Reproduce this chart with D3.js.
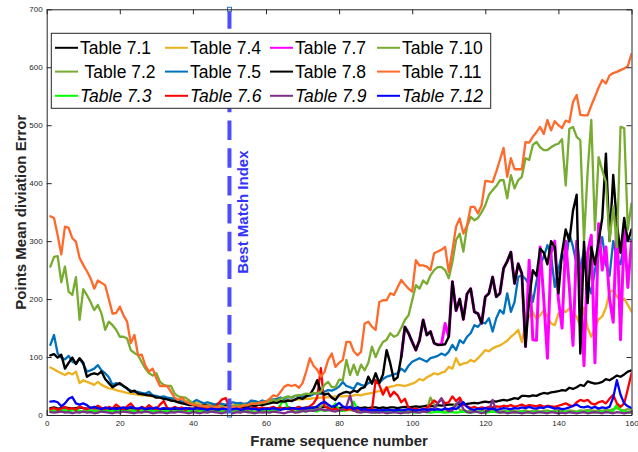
<!DOCTYPE html>
<html>
<head>
<meta charset="utf-8">
<script src="https://cdn.jsdelivr.net/npm/d3@7"></script>
<style>
  html, body { margin: 0; padding: 0; background: #fff; }
  svg { display: block; font-family: "Liberation Sans", Arial, Helvetica, sans-serif; }
</style>
</head>
<body>
<svg id="chart" width="638" height="452"></svg>
<script>
// ---- axis ticks ----
const xTicks = [0, 20, 40, 60, 80, 100, 120, 140, 160];
const yTicks = [0, 100, 200, 300, 400, 500, 600, 700];

// ---- series: mean deviation error per frame (frames 1..160) ----
const t71 = [12,13,11,12,13,12,11,12,13,12, 11,12,12,11,12,11,10,11,12,11,
  10,11,12,11,10,11,10,11,12,11, 10,11,10,11,10,11,12,11,10,11,
  10,11,10,11,10,9,10,11,10,10, 11,10,10,11,10,11,10,11,12,11,
  12,11,12,11,12,13,12,12,13,12, 13,12,13,12,13,14,13,12,13,12,
  13,12,13,12,13,12,13,12,13,13, 12,13,12,13,13,12,13,14,13,14,
  15,14,15,16,15,16,17,16,17,18, 18,17,19,18,19,20,21,20,22,23,
  22,24,23,25,26,25,27,29,28,33, 33,32,34,33,36,38,37,39,40,41,
  43,42,47,45,48,52,50,58,56,54, 55,57,62,60,64,68,66,70,75,77];

const t72 = [8,7,9,8,6,7,9,8,7,6, 8,7,6,8,7,9,7,6,8,7,
  6,7,8,6,7,8,7,6,7,8, 7,6,8,7,6,7,8,7,6,7,
  8,7,6,7,8,6,7,8,7,6, 7,8,6,7,8,7,6,8,7,9,
  8,10,9,11,10,12,9,10,8,9, 10,8,11,9,14,22,16,10,8,9,
  7,8,9,7,8,6,7,8,6,7, 6,7,8,6,7,8,6,7,8,7,
  6,8,7,9,30,18,8,7,6,8, 12,20,9,7,6,8,7,6,7,8,
  6,7,8,6,7,6,8,7,6,7, 8,6,7,8,6,7,8,6,7,8,
  7,6,8,7,6,8,7,9,8,7, 8,7,9,8,10,12,9,8,10,9];

const t73 = [6,8,5,7,9,6,8,10,7,5, 6,8,7,5,6,9,7,6,8,5,
  7,6,5,8,6,7,5,6,8,7, 5,6,7,5,6,8,6,5,7,6,
  5,6,7,5,6,5,7,6,5,6, 4,6,5,7,5,6,4,5,6,5,
  7,6,8,18,29,12,7,6,5,7, 6,8,7,6,9,7,8,12,20,8,
  7,9,12,23,10,6,5,6,5,4, 5,6,5,4,5,6,5,4,5,5,
  4,5,6,5,4,5,6,5,4,5, 5,4,5,6,5,4,5,6,5,4,
  5,6,5,4,5,6,5,4,5,6, 5,4,5,6,5,4,5,6,5,4,
  5,6,5,4,5,6,5,6,5,4, 5,6,5,6,7,18,8,6,5,4];

const t74 = [82,79,75,72,69,73,70,75,55,60, 57,55,52,57,52,49,46,45,43,41,
  40,38,37,36,35,34,34,33,32,31, 30,30,29,28,27,26,25,24,23,22,
  21,20,20,19,19,18,18,17,17,17, 18,18,19,19,20,20,21,21,22,22,
  23,23,24,24,25,25,26,26,27,27, 28,28,29,29,30,30,31,31,32,32,
  32,33,32,34,35,34,36,37,38,40, 41,43,46,49,50,52,51,50,52,54,
  57,62,60,65,68,72,70,73,75,83, 80,98,86,89,90,95,92,98,105,112,
  110,115,118,120,124,128,135,140,147,126, 158,170,178,165,172,181,170,158,155,175,
  180,178,184,176,170,152,185,150,135,150, 165,170,185,212,215,205,195,201,190,178];

const t75 = [121,138,106,99,96,102,92,89,97,88, 75,77,80,86,77,72,65,52,55,53,
  50,45,42,40,40,38,37,40,34,33, 31,32,30,29,28,25,23,22,20,22,
  26,23,20,22,20,18,20,19,18,20, 22,20,21,19,20,25,24,22,25,23,
  26,27,28,30,28,31,30,33,34,32, 35,33,36,38,36,40,43,42,45,49,
  57,50,48,45,55,52,50,55,58,60, 56,62,66,68,70,72,80,75,85,92,
  95,98,95,92,98,100,102,106,103,109, 121,112,129,124,135,141,155,152,160,158,
  167,144,167,181,175,210,178,195,238,241, 235,224,195,230,260,273,293,276,221,250,
  280,260,313,290,260,250,285,230,210,250, 285,307,260,240,300,270,260,296,305,302];

const t76 = [10,12,9,11,14,10,12,9,15,12, 10,13,11,16,12,10,14,11,18,13,
  10,15,20,12,9,14,11,17,12,10, 18,24,12,10,14,11,13,9,12,10,
  14,11,13,10,15,12,20,27,29,12, 10,13,11,14,10,12,15,11,13,10,
  12,14,11,13,10,12,9,11,14,10, 12,15,20,30,81,15,12,9,11,8,
  10,9,11,8,10,9,8,10,9,60, 52,35,48,32,40,34,22,28,12,10,
  11,9,10,12,18,25,20,28,20,22, 32,24,30,18,15,12,14,11,13,12,
  14,13,15,14,16,15,17,14,16,18, 15,17,16,15,17,14,16,15,14,16,
  18,20,17,15,22,26,24,26,20,18, 22,24,20,28,35,20,14,20,45,72];

// Table 7.7 is recorded from frame 97 onward
const t77Start = 97;
const t77 = [100,152,141,126, 112,129,164,138,144,124,121,121,158,135,
  230,180,200,165,209,218,178,175,158,204, 210,238,204,210,253,265,281,227,261,244,
  118,267,130,129,290,200,98,280,300,200, 150,300,220,120,300,250,85,280,310,90,
  330,250,290,200,160,340,130,320,220,300];

const t78 = [103,105,99,104,80,90,99,88,98,90, 66,70,72,70,75,62,55,48,52,55,
  50,46,40,42,37,36,35,34,33,30, 30,28,27,25,24,22,20,19,17,17,
  16,15,17,16,14,15,13,14,15,13, 14,15,16,14,15,17,16,18,17,19,
  20,22,21,24,23,25,24,27,30,28, 32,35,45,60,40,35,37,30,26,35,
  38,40,38,42,40,46,48,66,54,72, 55,70,112,89,60,65,100,152,141,126,
  112,129,164,138,144,124,121,121,122,135, 230,180,200,165,209,218,178,175,158,204,
  210,238,204,210,253,265,281,227,261,244, 118,200,250,240,287,280,260,300,290,210,
  280,320,300,353,380,106,300,193,290,260, 300,340,451,300,414,330,280,340,300,320];

const t79 = [5,4,5,6,4,5,3,5,4,6, 4,5,3,4,6,5,4,3,5,4,
  6,5,4,3,5,4,6,5,3,4, 5,4,3,5,4,6,5,4,3,5,
  4,3,5,4,6,5,4,3,5,4, 3,5,4,6,5,4,3,5,4,5,
  4,6,5,4,3,5,6,4,5,7, 6,8,7,9,10,8,9,7,6,8,
  10,15,34,8,5,4,6,5,4,5, 4,5,3,4,5,4,3,5,4,6,
  5,4,6,5,8,12,20,29,12,6, 8,18,24,10,5,4,6,5,3,5,
  8,26,6,4,5,3,4,5,4,3, 4,5,3,4,5,4,3,5,4,3,
  4,3,5,4,3,4,5,3,4,5, 4,3,5,4,3,5,4,3,4,5];

const t710 = [256,273,274,229,256,213,207,238,164,217, 207,195,181,190,175,147,161,155,147,135,
  135,132,112,107,103,91,80,72,68,72, 57,52,50,50,37,32,31,30,25,20,
  17,16,15,16,14,15,14,15,13,14, 15,17,16,18,17,19,20,19,21,22,
  24,26,25,28,30,32,31,33,34,35, 37,36,38,37,40,52,57,48,48,61,
  60,95,69,87,69,87,77,90,118,100, 115,126,130,141,135,138,150,164,172,198,
  224,218,232,226,241,250,255,255,250,236, 264,302,313,282,325,342,336,340,350,362,
  380,388,395,405,405,374,414,391,405,411, 443,440,466,471,462,457,457,462,466,468,
  476,396,494,497,480,474,302,420,509,319, 445,422,402,300,360,290,497,495,320,365];

const t711 = [343,340,310,277,325,323,305,299,271,259, 248,236,218,232,228,224,200,175,176,187,
  172,161,124,138,103,104,85,75,80,63, 50,50,50,40,30,26,30,23,20,18,
  17,15,16,14,15,13,14,12,13,12, 14,13,15,16,17,20,19,21,22,23,
  28,34,32,40,49,52,50,52,47,55, 75,98,85,78,66,74,95,106,83,90,
  95,126,126,110,103,109,158,161,152,147, 195,198,198,210,207,220,233,225,218,213,
  267,258,258,256,250,279,282,285,290,247, 284,325,339,313,327,359,359,348,362,404,
  403,402,420,440,461,411,443,424,424,424, 471,470,480,488,497,485,509,491,507,500,
  495,508,505,540,552,518,517,517,534,549, 565,578,572,586,590,592,595,598,602,623];

const t712 = [23,24,22,15,20,28,31,20,18,20, 17,12,14,12,10,13,11,12,10,12,
  13,11,14,12,11,13,10,12,11,13, 10,12,11,10,12,11,10,12,11,10,
  12,11,10,9,11,10,9,11,10,9, 10,11,9,10,12,10,11,9,10,11,
  10,12,10,9,11,10,12,11,10,12, 11,13,12,15,20,23,18,14,16,21,
  15,12,14,10,13,9,10,9,8,9, 8,9,8,9,8,9,8,9,10,9,
  8,9,10,9,10,9,10,9,11,10, 12,10,15,22,14,10,9,11,10,12,
  10,11,9,10,12,11,10,12,11,13, 12,14,12,11,13,12,15,13,11,12,
  10,11,13,16,18,14,13,15,12,14, 11,13,12,14,30,60,35,20,15,12];

const seriesNames = ["Table 7.1", "Table 7.2", "Table 7.3", "Table 7.4", "Table 7.5", "Table 7.6",
                     "Table 7.7", "Table 7.8", "Table 7.9", "Table 7.10", "Table 7.11", "Table 7.12"];
const legendLabels = ["Table 7.1", " Table 7.2", "Table 7.3", "Table 7.4", "Table 7.5", "Table 7.6",
                      "Table 7.7", "Table 7.8", "Table 7.9", "Table 7.10", "Table 7.11", "Table 7.12"];
const seriesColors = ["#000000", "#77AC30", "#00FF00", "#EDB120", "#0072BD", "#FF0000",
                      "#FF00FF", "#000000", "#7E2F8E", "#77AC30", "#FF6929", "#0000FF"];
const seriesWidths = [2.3, 2.3, 2.3, 2.3, 2.3, 2.3, 3, 2.4, 2.3, 2.3, 2.3, 2.3];
const seriesValues = [t71, t72, t73, t74, t75, t76, t77, t78, t79, t710, t711, t712];
const seriesStart  = [1, 1, 1, 1, 1, 1, t77Start, 1, 1, 1, 1, 1];

const bestMatchFrame = 50;

// ---- layout ----
const svg = d3.select("#chart");
const plotLeft = 46.7, plotRight = 631.5, plotTop = 9.3, plotBottom = 415;
const axisColor = "#262626";

const x = d3.scaleLinear().domain([0, 160]).range([plotLeft, plotRight]);
const y = d3.scaleLinear().domain([0, 700]).range([plotBottom, plotTop]);

svg.append("rect").attr("width", 638).attr("height", 452).attr("fill", "#fff");

// clip data to the plot box
svg.append("clipPath").attr("id", "plotClip")
  .append("rect").attr("x", plotLeft).attr("y", plotTop)
  .attr("width", plotRight - plotLeft).attr("height", plotBottom - plotTop);

// ---- series lines ----
const line = d3.line().x(d => x(d[0])).y(d => y(d[1]));
const plot = svg.append("g").attr("clip-path", "url(#plotClip)");
seriesValues.forEach((vals, i) => {
  const pts = vals.map((v, k) => [seriesStart[i] + k, v]);
  plot.append("path")
    .datum(pts)
    .attr("d", line)
    .attr("fill", "none")
    .attr("stroke", seriesColors[i])
    .attr("stroke-width", seriesWidths[i])
    .attr("stroke-linejoin", "round")
    .attr("stroke-linecap", "round");
});

// ---- best match marker line ----
const bm = svg.append("g");
bm.append("line")
  .attr("x1", x(bestMatchFrame)).attr("x2", x(bestMatchFrame))
  .attr("y1", y(700)).attr("y2", y(0))
  .attr("stroke", "#4D4DFF").attr("stroke-width", 4)
  .attr("stroke-dasharray", "19.5,8.3");
[700, 0].forEach(v => {
  bm.append("rect")
    .attr("x", x(bestMatchFrame) - 2).attr("y", y(v) - 2)
    .attr("width", 4).attr("height", 4)
    .attr("fill", "#fff").attr("stroke", "#2F6FBF").attr("stroke-width", 1);
});
svg.append("text")
  .attr("transform", `translate(${x(bestMatchFrame) + 19},${(plotTop + plotBottom) / 2}) rotate(-90)`)
  .attr("text-anchor", "middle")
  .attr("font-size", 15).attr("font-weight", "bold")
  .attr("fill", "#3333FF")
  .text("Best Match Index");

// ---- axes (inward ticks, boxed) ----
function styleAxis(g) {
  g.selectAll("path").attr("stroke", axisColor).attr("stroke-width", 1);
  g.selectAll("line").attr("stroke", axisColor).attr("stroke-width", 1);
  g.selectAll("text").attr("fill", axisColor).attr("font-size", 8)
    .attr("font-family", '"Liberation Sans", Arial, sans-serif');
}
svg.append("g").attr("transform", `translate(0,${plotBottom})`)
  .call(d3.axisBottom(x).tickValues(xTicks).tickSizeInner(-5).tickSizeOuter(0).tickPadding(5))
  .call(styleAxis);
svg.append("g").attr("transform", `translate(0,${plotTop})`)
  .call(d3.axisTop(x).tickValues(xTicks).tickSizeInner(-5).tickSizeOuter(0).tickFormat(""))
  .call(styleAxis);
svg.append("g").attr("transform", `translate(${plotLeft},0)`)
  .call(d3.axisLeft(y).tickValues(yTicks).tickSizeInner(-5).tickSizeOuter(0).tickPadding(4))
  .call(styleAxis);
svg.append("g").attr("transform", `translate(${plotRight},0)`)
  .call(d3.axisRight(y).tickValues(yTicks).tickSizeInner(-5).tickSizeOuter(0).tickFormat(""))
  .call(styleAxis);

// ---- axis titles ----
svg.append("text")
  .attr("x", (plotLeft + plotRight) / 2).attr("y", 445.7)
  .attr("text-anchor", "middle")
  .attr("font-size", 15).attr("font-weight", "bold").attr("fill", axisColor)
  .text("Frame sequence number");
svg.append("text")
  .attr("transform", `translate(25.5,${(plotTop + plotBottom) / 2}) rotate(-90)`)
  .attr("text-anchor", "middle")
  .attr("font-size", 15).attr("font-weight", "bold").attr("fill", axisColor)
  .text("Points Mean diviation Error");

// ---- legend (3 rows x 4 columns, column-major) ----
const legend = svg.append("g");
legend.append("rect")
  .attr("x", 51.3).attr("y", 33.3).attr("width", 439.4).attr("height", 75)
  .attr("fill", "#fff").attr("stroke", axisColor).attr("stroke-width", 1);
const colX = [55, 165, 270, 377];
const rowY = [47.8, 71.6, 95.8];
seriesNames.forEach((name, i) => {
  const c = Math.floor(i / 3), r = i % 3;
  const g = legend.append("g");
  g.append("line")
    .attr("x1", colX[c]).attr("x2", colX[c] + 23)
    .attr("y1", rowY[r]).attr("y2", rowY[r])
    .attr("stroke", seriesColors[i]).attr("stroke-width", 2);
  g.append("text")
    .attr("x", colX[c] + 25).attr("y", rowY[r] + 6.2)
    .attr("font-size", 17.5)
    .attr("font-style", r === 2 ? "italic" : "normal")
    .attr("fill", "#000")
    .style("white-space", "pre")
    .text(legendLabels[i]);
});
</script>
</body>
</html>
